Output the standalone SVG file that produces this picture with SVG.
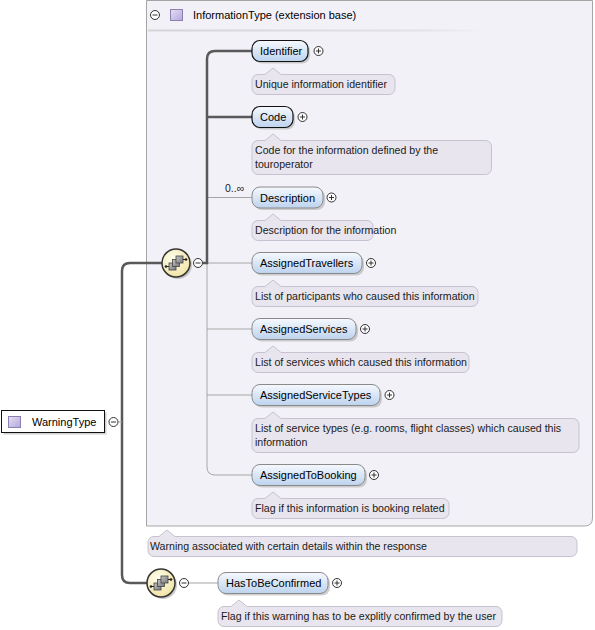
<svg xmlns="http://www.w3.org/2000/svg" width="595" height="630" viewBox="0 0 595 630">
<defs>
<linearGradient id="elFill" x1="0" y1="0" x2="0" y2="1"><stop offset="0" stop-color="#f6f9fe"/><stop offset="1" stop-color="#bdd3ee"/></linearGradient>
<linearGradient id="sqFill" x1="0" y1="0" x2="1" y2="1"><stop offset="0" stop-color="#e6e0f5"/><stop offset="1" stop-color="#b4a6da"/></linearGradient>
<linearGradient id="boxSq" x1="0" y1="0" x2="1" y2="1"><stop offset="0" stop-color="#c4c4c4"/><stop offset="1" stop-color="#7a7a7a"/></linearGradient>
<radialGradient id="seqFill" cx="0.4" cy="0.35" r="0.7"><stop offset="0" stop-color="#fffef0"/><stop offset="1" stop-color="#efe3a0"/></radialGradient>
<linearGradient id="sep" x1="0" y1="0" x2="1" y2="0"><stop offset="0" stop-color="#d4d4d8"/><stop offset="0.8" stop-color="#e2e1e8"/><stop offset="1" stop-color="#f3f1f8"/></linearGradient>
<g id="seqIcon">
<circle cx="2" cy="2" r="14" fill="#9a9a9a" opacity="0.5"/>
<circle cx="0" cy="0" r="14" fill="url(#seqFill)" stroke="#333" stroke-width="1.5"/>
<line x1="-10" y1="3.5" x2="-7" y2="3.5" stroke="#222" stroke-width="1"/>
<circle cx="-10" cy="3.5" r="1.3" fill="#222"/>
<rect x="-7" y="0" width="7" height="7" fill="url(#boxSq)" stroke="#444" stroke-width="0.8"/>
<rect x="-3.5" y="-3.5" width="7" height="7" fill="url(#boxSq)" stroke="#444" stroke-width="0.8"/>
<rect x="0" y="-7" width="7" height="7" fill="url(#boxSq)" stroke="#444" stroke-width="0.8"/>
<line x1="7" y1="-3.5" x2="10" y2="-3.5" stroke="#222" stroke-width="1"/>
<circle cx="10" cy="-3.5" r="1.3" fill="#222"/>
</g>
<g id="minus"><circle cx="0" cy="0" r="4.5" fill="#fff" stroke="#333" stroke-width="1"/><line x1="-2.5" y1="0" x2="2.5" y2="0" stroke="#333" stroke-width="1"/></g>
<g id="plus"><circle cx="0" cy="0" r="4.5" fill="#fff" stroke="#333" stroke-width="1"/><line x1="-2.5" y1="0" x2="2.5" y2="0" stroke="#333" stroke-width="1"/><line x1="0" y1="-2.5" x2="0" y2="2.5" stroke="#333" stroke-width="1"/></g>
</defs>
<style>
text{font-family:"Liberation Sans",Arial,sans-serif;fill:#000}
.name{font-size:11px}
.doc{font-size:10.6px;fill:#1a1a1a}
.docbox{fill:#e8e5ee;stroke:#c6c2d0;stroke-width:1}
.shadow{fill:#a8a8a8;opacity:0.55}
.req{fill:url(#elFill);stroke:#111;stroke-width:1.2}
.opt{fill:url(#elFill);stroke:#8a8a8a;stroke-width:1}
.thick{fill:none;stroke:#595959;stroke-width:2.5}
.thin{fill:none;stroke:#a6a6a6;stroke-width:1}
</style>
<rect width="595" height="630" fill="#fff"/>

<g id="extension-base">
<path d="M146.5,0.5 H592.5 V518 Q592.5,526 584.5,526 H146.5 Z" fill="#f3f1f8" stroke="#a5a5a5" stroke-width="1"/>
<use href="#minus" x="155" y="15"/>
<rect x="170.5" y="9.5" width="12" height="11" fill="url(#sqFill)" stroke="#8a80b2"/>
<text class="name" x="193" y="19">InformationType (extension base)</text>
<rect x="148" y="29.5" width="337" height="2" fill="url(#sep)"/>
</g>

<g id="connectors">
<path class="thick" d="M162,263 H130 Q122,263 122,271 V575 Q122,583 130,583 H147"/>
<path class="thin" d="M118.5,422 H122"/>
<path class="thin" d="M207,263 V467 Q207,475 215,475 H252"/>
<path class="thin" d="M207,197.5 H252 M207,263 H252 M207,329 H252 M207,395 H252"/>
<path class="thick" d="M252,51 H215 Q207,51 207,59 V263 H202.5 M207,117 H252"/>
<path class="thin" d="M188.5,583 H218"/>
</g>

<g id="WarningType">
<rect x="3.5" y="412.5" width="103" height="22" class="shadow"/>
<rect x="1.5" y="410.5" width="103" height="22" fill="#fff" stroke="#111" stroke-width="1"/>
<rect x="8.5" y="416.5" width="12" height="11" fill="url(#sqFill)" stroke="#8a80b2"/>
<text class="name" x="32" y="426">WarningType</text>
<use href="#minus" x="113.5" y="422"/>
</g>

<g id="sequence1">
<use href="#seqIcon" x="176" y="263"/>
<use href="#minus" x="198" y="263"/>
</g>

<g id="sequence2">
<use href="#seqIcon" x="161" y="583"/>
<use href="#minus" x="184" y="583"/>
</g>

<g id="Identifier">
<rect x="254" y="42.5" width="56" height="21" rx="8" class="shadow"/>
<rect x="252" y="40.5" width="56" height="21" rx="8" class="req"/>
<text class="name" x="260" y="55">Identifier</text>
<use href="#plus" x="318.5" y="51"/>
<path class="docbox" d="M258,74.5 H265 L273,68 L281,74.5 H389 A6,6 0 0 1 395,80.5 V88.5 A6,6 0 0 1 389,94.5 H258 A6,6 0 0 1 252,88.5 V80.5 A6,6 0 0 1 258,74.5 Z"/>
<text class="doc" x="255" y="88">Unique information identifier</text>
</g>

<g id="Code">
<rect x="254" y="108.5" width="41" height="21" rx="8" class="shadow"/>
<rect x="252" y="106.5" width="41" height="21" rx="8" class="req"/>
<text class="name" x="260" y="121">Code</text>
<use href="#plus" x="302.5" y="117"/>
<path class="docbox" d="M258,140.5 H265 L273,134 L281,140.5 H485.5 A6,6 0 0 1 491.5,146.5 V168.5 A6,6 0 0 1 485.5,174.5 H258 A6,6 0 0 1 252,168.5 V146.5 A6,6 0 0 1 258,140.5 Z"/>
<text class="doc" x="255" y="154">Code for the information defined by the</text>
<text class="doc" x="255" y="168">touroperator</text>
</g>

<g id="Description">
<text class="doc" x="225" y="192" style="font-size:10.5px">0..∞</text>
<rect x="254" y="189" width="71" height="21" rx="8" class="shadow"/>
<rect x="252" y="187" width="71" height="21" rx="8" class="opt"/>
<text class="name" x="260" y="201.5">Description</text>
<use href="#plus" x="331.5" y="197.5"/>
<path class="docbox" d="M258,220.5 H265 L273,214 L281,220.5 H367 A6,6 0 0 1 373,226.5 V234.5 A6,6 0 0 1 367,240.5 H258 A6,6 0 0 1 252,234.5 V226.5 A6,6 0 0 1 258,220.5 Z"/>
<text class="doc" x="255" y="234">Description for the information</text>
</g>

<g id="AssignedTravellers">
<rect x="254" y="254.5" width="110" height="21" rx="8" class="shadow"/>
<rect x="252" y="252.5" width="110" height="21" rx="8" class="opt"/>
<text class="name" x="260" y="267">AssignedTravellers</text>
<use href="#plus" x="371" y="263"/>
<path class="docbox" d="M258,286.5 H265 L273,280 L281,286.5 H472 A6,6 0 0 1 478,292.5 V300.5 A6,6 0 0 1 472,306.5 H258 A6,6 0 0 1 252,300.5 V292.5 A6,6 0 0 1 258,286.5 Z"/>
<text class="doc" x="255" y="300">List of participants who caused this information</text>
</g>

<g id="AssignedServices">
<rect x="254" y="320.5" width="104" height="21" rx="8" class="shadow"/>
<rect x="252" y="318.5" width="104" height="21" rx="8" class="opt"/>
<text class="name" x="260" y="333">AssignedServices</text>
<use href="#plus" x="365" y="329"/>
<path class="docbox" d="M258,352.5 H265 L273,346 L281,352.5 H463 A6,6 0 0 1 469,358.5 V366.5 A6,6 0 0 1 463,372.5 H258 A6,6 0 0 1 252,366.5 V358.5 A6,6 0 0 1 258,352.5 Z"/>
<text class="doc" x="255" y="366">List of services which caused this information</text>
</g>

<g id="AssignedServiceTypes">
<rect x="254" y="386.5" width="128" height="21" rx="8" class="shadow"/>
<rect x="252" y="384.5" width="128" height="21" rx="8" class="opt"/>
<text class="name" x="260" y="399">AssignedServiceTypes</text>
<use href="#plus" x="389.5" y="395"/>
<path class="docbox" d="M258,418.5 H265 L273,412 L281,418.5 H573 A6,6 0 0 1 579,424.5 V446.5 A6,6 0 0 1 573,452.5 H258 A6,6 0 0 1 252,446.5 V424.5 A6,6 0 0 1 258,418.5 Z"/>
<text class="doc" x="255" y="432">List of service types (e.g. rooms, flight classes) which caused this</text>
<text class="doc" x="255" y="446">information</text>
</g>

<g id="AssignedToBooking">
<rect x="254" y="466.5" width="113" height="21" rx="8" class="shadow"/>
<rect x="252" y="464.5" width="113" height="21" rx="8" class="opt"/>
<text class="name" x="260" y="479">AssignedToBooking</text>
<use href="#plus" x="374" y="475"/>
<path class="docbox" d="M258,498.5 H265 L273,492 L281,498.5 H443 A6,6 0 0 1 449,504.5 V512.5 A6,6 0 0 1 443,518.5 H258 A6,6 0 0 1 252,512.5 V504.5 A6,6 0 0 1 258,498.5 Z"/>
<text class="doc" x="255" y="512">Flag if this information is booking related</text>
</g>

<g id="WarningType-doc">
<path class="docbox" d="M154,536.5 H159 L167,530 L175,536.5 H571 A6,6 0 0 1 577,542.5 V550.5 A6,6 0 0 1 571,556.5 H154 A6,6 0 0 1 148,550.5 V542.5 A6,6 0 0 1 154,536.5 Z"/>
<text class="doc" x="150" y="550">Warning associated with certain details within the response</text>
</g>

<g id="HasToBeConfirmed">
<rect x="220" y="574.5" width="110" height="21" rx="8" class="shadow"/>
<rect x="218" y="572.5" width="110" height="21" rx="8" class="opt"/>
<text class="name" x="226" y="587">HasToBeConfirmed</text>
<use href="#plus" x="337" y="583"/>
<path class="docbox" d="M224,606.5 H231 L239,600 L247,606.5 H496 A6,6 0 0 1 502,612.5 V620.5 A6,6 0 0 1 496,626.5 H224 A6,6 0 0 1 218,620.5 V612.5 A6,6 0 0 1 224,606.5 Z"/>
<text class="doc" x="221" y="620">Flag if this warning has to be explitly confirmed by the user</text>
</g>
</svg>
